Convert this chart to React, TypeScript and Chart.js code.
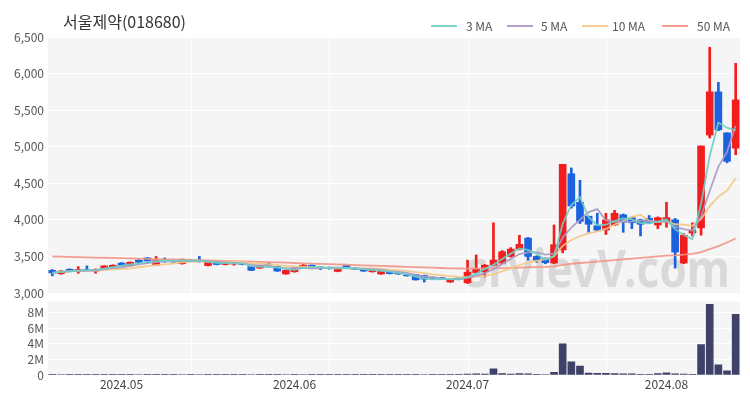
import React, { useEffect, useRef } from "react";
import { Chart, registerables } from "chart.js";

Chart.register(...registerables);

const titleText = "서울제약(018680)";
const watermarkText = "srvievV.com";

const dates = [
  "2024.04.19", "2024.04.22", "2024.04.23", "2024.04.24", "2024.04.25", "2024.04.26", "2024.04.29", "2024.04.30",
  "2024.05.02", "2024.05.03", "2024.05.07", "2024.05.08", "2024.05.09", "2024.05.10", "2024.05.13", "2024.05.14",
  "2024.05.16", "2024.05.17", "2024.05.20", "2024.05.21", "2024.05.22", "2024.05.23", "2024.05.24", "2024.05.27",
  "2024.05.28", "2024.05.29", "2024.05.30", "2024.05.31",
  "2024.06.03", "2024.06.04", "2024.06.05", "2024.06.06", "2024.06.07", "2024.06.10", "2024.06.11", "2024.06.12",
  "2024.06.13", "2024.06.14", "2024.06.17", "2024.06.18", "2024.06.19", "2024.06.20", "2024.06.21", "2024.06.24",
  "2024.06.25", "2024.06.26", "2024.06.27", "2024.06.28",
  "2024.07.01", "2024.07.02", "2024.07.03", "2024.07.04", "2024.07.05", "2024.07.08", "2024.07.09", "2024.07.10",
  "2024.07.11", "2024.07.12", "2024.07.15", "2024.07.16", "2024.07.17", "2024.07.18", "2024.07.19", "2024.07.22",
  "2024.07.23", "2024.07.24", "2024.07.25", "2024.07.26", "2024.07.29", "2024.07.30", "2024.07.31",
  "2024.08.01", "2024.08.02", "2024.08.05", "2024.08.06", "2024.08.07", "2024.08.08", "2024.08.09", "2024.08.12",
  "2024.08.13",
];

const opens = [
  3310, 3265, 3325, 3300, 3320, 3300, 3330, 3355,
  3410, 3375, 3450, 3480, 3380, 3450, 3440, 3400, 3445, 3440, 3375, 3420, 3390, 3395, 3400, 3360, 3340, 3395, 3360, 3260,
  3290, 3340, 3380, 3355, 3350, 3295, 3375, 3340, 3330, 3290, 3260, 3290, 3280, 3250, 3250, 3240, 3215, 3210, 3150, 3205,
  3140, 3280, 3290, 3380, 3410, 3500, 3600, 3750, 3500, 3475, 3410, 3590, 4630, 4240, 4050, 3920, 3860, 3930, 4070, 4030, 4000, 4020, 3930,
  3970, 4000, 3410, 3820, 3890, 5160, 5750, 5190, 4980,
];
const highs = [
  3320, 3305, 3330, 3360, 3370, 3330, 3375, 3385,
  3415, 3425, 3455, 3485, 3500, 3480, 3445, 3465, 3450, 3500, 3425, 3425, 3425, 3430, 3405, 3365, 3375, 3420, 3365, 3315,
  3345, 3390, 3385, 3360, 3355, 3345, 3380, 3345, 3335, 3320, 3305, 3295, 3285, 3255, 3255, 3245, 3220, 3215, 3190, 3210,
  3450, 3520, 3390, 3960, 3580, 3620, 3790, 3760, 3510, 3480, 3930, 4760, 4710, 4540, 4050, 4090, 4090, 4130, 4080, 4040, 4010, 4060, 4040,
  4240, 4020, 3810, 3960, 5010, 6360, 5880, 5190, 6140,
];
const lows = [
  3235, 3255, 3305, 3270, 3305, 3270, 3325, 3350,
  3370, 3370, 3415, 3410, 3375, 3420, 3420, 3395, 3430, 3420, 3370, 3385, 3385, 3380, 3385, 3305, 3335, 3380, 3295, 3255,
  3285, 3335, 3340, 3320, 3325, 3290, 3345, 3320, 3295, 3285, 3255, 3260, 3255, 3230, 3175, 3150, 3190, 3185, 3145, 3180,
  3130, 3270, 3220, 3370, 3400, 3490, 3590, 3450, 3420, 3400, 3400, 3550, 4160, 3950, 3830, 3850, 3800, 3920, 3830, 3880, 3780, 3950, 3880,
  3900, 3340, 3400, 3780, 3790, 5120, 5220, 4780, 4890,
];
const closes = [
  3275, 3300, 3310, 3320, 3310, 3315, 3370, 3380,
  3375, 3420, 3420, 3440, 3450, 3440, 3425, 3460, 3435, 3430, 3420, 3390, 3420, 3405, 3390, 3310, 3370, 3385, 3300, 3310,
  3340, 3380, 3345, 3335, 3335, 3340, 3350, 3325, 3300, 3310, 3300, 3265, 3260, 3235, 3180, 3190, 3195, 3190, 3185, 3185,
  3285, 3325, 3380, 3450, 3565, 3600, 3665, 3500, 3450, 3415, 3660, 4760, 4190, 3980, 3940, 3860, 4000, 4090, 3970, 3960, 3940, 3960, 4030,
  4030, 3560, 3790, 3860, 5010, 5750, 5230, 4800, 5640,
];
const volumes = [
  52000, 61000, 38000, 45000, 40000, 36000, 58000, 49000,
  55000, 47000, 60000, 72000, 95000, 50000, 41000, 66000, 39000, 70000, 52000, 43000, 48000, 45000, 37000, 62000, 44000, 41000, 58000, 63000,
  57000, 65000, 43000, 39000, 35000, 48000, 52000, 36000, 45000, 40000, 51000, 38000, 34000, 42000, 75000, 68000, 40000, 36000, 55000, 47000,
  130000, 160000, 110000, 780000, 170000, 130000, 190000, 150000, 90000, 70000, 350000, 4000000, 1700000, 1150000, 250000, 200000, 210000, 180000, 150000, 140000, 100000, 80000, 170000,
  270000, 160000, 120000, 100000, 3900000, 9100000, 1300000, 550000, 7800000,
];
// 50-day moving average (it depends on sessions before the visible window)
const ma50 = [
  3500, 3497, 3494, 3491, 3488, 3485, 3482, 3479,
  3476, 3473, 3470, 3467, 3464, 3461, 3458, 3455, 3452, 3449, 3446, 3443, 3440, 3437, 3433, 3430, 3426, 3422, 3418, 3414,
  3410, 3406, 3402, 3398, 3394, 3390, 3386, 3382, 3378, 3374, 3370, 3366, 3362, 3358, 3354, 3350, 3346, 3342, 3338, 3335,
  3333, 3334, 3336, 3338, 3341, 3344, 3348, 3352, 3355, 3358, 3365, 3385, 3400, 3410, 3420, 3430, 3440, 3450, 3460, 3470, 3480, 3490, 3500,
  3510, 3515, 3525, 3535, 3560, 3600, 3640, 3690, 3745,
];
const maLabels = ["3 MA", "5 MA", "10 MA", "50 MA"];
const maColors = ["rgba(110,206,196,0.9)", "rgba(170,152,196,0.9)", "rgba(243,200,135,0.9)", "rgba(243,148,134,0.9)"];
const priceTicks = [3000, 3500, 4000, 4500, 5000, 5500, 6000, 6500];
const volTicks = [0, 2000000, 4000000, 6000000, 8000000];
const volTickLabels = ["0", "2M", "4M", "6M", "8M"];
const volMax = 9500000;
const vGridIdx = [16, 32, 48, 64];

const FONT = "'Noto Sans CJK KR', 'Noto Sans', sans-serif";
const RED = "#f21d1d";
const BLUE = "#1b62df";
const VOL_COLOR = "#3f4169";
const PANEL_BG = "#f5f5f5";

function movingAverage(values: number[], n: number): number[] {
  return values.map((_, i) => {
    const s = Math.max(0, i - n + 1);
    const w = values.slice(s, i + 1);
    return w.reduce((a, b) => a + b, 0) / w.length;
  });
}

function monthTick(i: number): string {
  if (i === 0) return "";
  const cur = dates[i].slice(0, 7);
  const prev = dates[i - 1].slice(0, 7);
  return cur !== prev ? cur : "";
}

const panelPlugin = {
  id: "panelBg",
  beforeDraw(chart: any) {
    const { ctx, chartArea: a, scales } = chart;
    ctx.save();
    ctx.fillStyle = PANEL_BG;
    ctx.fillRect(a.left, a.top, a.right - a.left, a.bottom - a.top);
    ctx.strokeStyle = "#ffffff";
    ctx.lineWidth = 1;
    for (const idx of vGridIdx) {
      const x = Math.round(scales.x.getPixelForValue(idx)) + 0.5;
      ctx.beginPath();
      ctx.moveTo(x, a.top);
      ctx.lineTo(x, a.bottom);
      ctx.stroke();
    }
    ctx.restore();
  },
};

const watermarkPlugin = {
  id: "watermark",
  beforeDatasetsDraw(chart: any) {
    const { ctx } = chart;
    ctx.save();
    ctx.font = "bold 52px 'Noto Sans', sans-serif";
    ctx.fillStyle = "rgba(185,185,185,0.45)";
    ctx.textBaseline = "alphabetic";
    ctx.textAlign = "left";
    const w = ctx.measureText(watermarkText).width;
    ctx.translate(466, 287);
    ctx.scale(264 / w, 1);
    ctx.fillText(watermarkText, 0, 0);
    ctx.restore();
  },
};

const headerPlugin = {
  id: "header",
  afterDraw(chart: any) {
    const { ctx } = chart;
    ctx.save();
    ctx.font = `16px ${FONT}`;
    ctx.fillStyle = "#333333";
    ctx.textBaseline = "middle";
    ctx.textAlign = "left";
    ctx.fillText(titleText, 63, 22);
    const lineX = [431, 507, 582, 662];
    const textX = [466, 541, 612, 697];
    ctx.font = `12px ${FONT}`;
    ctx.fillStyle = "#555555";
    maLabels.forEach((lab, k) => {
      ctx.strokeStyle = maColors[k];
      ctx.lineWidth = 2;
      ctx.beginPath();
      ctx.moveTo(lineX[k], 26);
      ctx.lineTo(lineX[k] + 26, 26);
      ctx.stroke();
      ctx.fillText(lab, textX[k], 26);
    });
    ctx.restore();
  },
};

export default function App() {
  const priceRef = useRef<HTMLCanvasElement>(null);
  const volRef = useRef<HTMLCanvasElement>(null);

  useEffect(() => {
    const ma3 = movingAverage(closes, 3);
    const ma5 = movingAverage(closes, 5);
    const ma10 = movingAverage(closes, 10);
    const mas = [ma3, ma5, ma10, ma50];
    const colors = closes.map((c, i) => (c >= opens[i] ? RED : BLUE));

    const price = new Chart(priceRef.current as HTMLCanvasElement, {
      type: "bar",
      data: {
        labels: dates,
        datasets: [
          ...mas.map((d, k) => ({
            type: "line" as const,
            label: maLabels[k],
            data: d,
            borderColor: maColors[k],
            borderWidth: 1.8,
            pointRadius: 0,
            tension: 0,
            fill: false,
            order: 0,
          })),
          {
            type: "bar" as const,
            label: "body",
            data: opens.map((o, i) => [o, closes[i]]),
            backgroundColor: colors,
            borderWidth: 0,
            barThickness: 7,
            grouped: false,
            order: 1,
          },
          {
            type: "bar" as const,
            label: "wick",
            data: lows.map((l, i) => [l, highs[i]]),
            backgroundColor: colors,
            borderWidth: 0,
            barThickness: 2,
            grouped: false,
            order: 2,
          },
        ] as any,
      },
      options: {
        responsive: false,
        animation: false,
        devicePixelRatio: 1,
        layout: { padding: { top: 37, bottom: 12, left: 0, right: 10 } },
        plugins: { legend: { display: false }, tooltip: { enabled: false }, title: { display: false } },
        scales: {
          x: { type: "category", display: false, offset: true },
          y: {
            min: priceTicks[0],
            max: priceTicks[priceTicks.length - 1],
            afterFit: (s: any) => {
              s.width = 48;
            },
            afterBuildTicks: (s: any) => {
              s.ticks = priceTicks.map((v) => ({ value: v }));
            },
            ticks: {
              autoSkip: false,
              padding: 4,
              color: "#555555",
              font: { family: FONT, size: 12 },
              callback: (v: any) => Number(v).toLocaleString("en-US"),
            },
            grid: { color: "#ffffff", lineWidth: 1, drawTicks: false },
            border: { display: false },
          },
        },
      } as any,
      plugins: [panelPlugin, watermarkPlugin, headerPlugin],
    });

    const vol = new Chart(volRef.current as HTMLCanvasElement, {
      type: "bar",
      data: {
        labels: dates,
        datasets: [
          {
            label: "volume",
            data: volumes,
            backgroundColor: VOL_COLOR,
            borderWidth: 0,
            barThickness: 7,
          },
        ],
      },
      options: {
        responsive: false,
        animation: false,
        devicePixelRatio: 1,
        layout: { padding: { top: 0, bottom: 0, left: 0, right: 10 } },
        plugins: { legend: { display: false }, tooltip: { enabled: false } },
        scales: {
          x: {
            type: "category",
            offset: true,
            afterFit: (s: any) => {
              s.height = 25;
            },
            grid: { display: false, drawTicks: false },
            border: { display: false },
            ticks: {
              autoSkip: false,
              maxRotation: 0,
              padding: 2,
              color: "#444444",
              font: { family: FONT, size: 12 },
              callback: (_v: any, i: number) => monthTick(i),
            },
          },
          y: {
            min: 0,
            max: volMax,
            afterFit: (s: any) => {
              s.width = 48;
            },
            afterBuildTicks: (s: any) => {
              s.ticks = volTicks.map((v) => ({ value: v }));
            },
            ticks: {
              autoSkip: false,
              padding: 4,
              color: "#555555",
              font: { family: FONT, size: 12 },
              callback: (_v: any, i: number) => volTickLabels[i] ?? "",
            },
            grid: { color: "#ffffff", lineWidth: 1, drawTicks: false },
            border: { display: false },
          },
        },
      } as any,
      plugins: [panelPlugin],
    });

    return () => {
      price.destroy();
      vol.destroy();
    };
  }, []);

  return (
    <div style={{ position: "fixed", left: 0, top: 0, width: 750, height: 400, background: "#ffffff" }}>
      <canvas
        ref={priceRef}
        width={750}
        height={305}
        style={{ position: "absolute", left: 0, top: 0, width: 750, height: 305 }}
      />
      <canvas
        ref={volRef}
        width={750}
        height={110}
        style={{ position: "absolute", left: 0, top: 290, width: 750, height: 110 }}
      />
    </div>
  );
}
